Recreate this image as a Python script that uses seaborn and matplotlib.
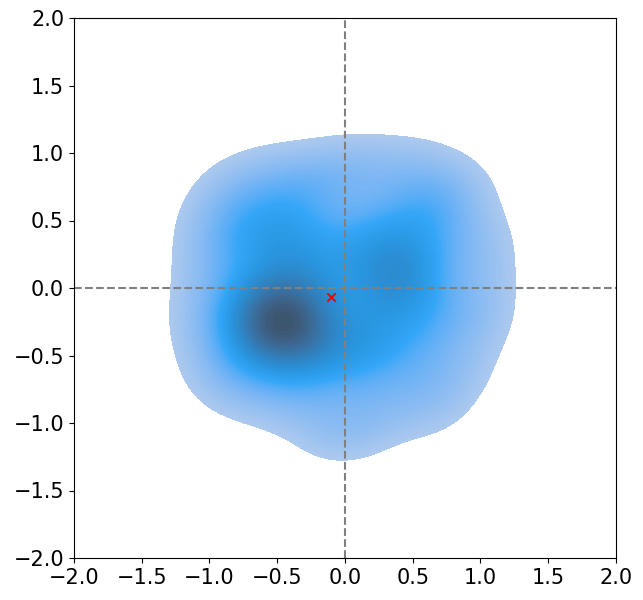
import matplotlib
matplotlib.use("Agg")
import matplotlib.pyplot as plt
import numpy as np
import pandas as pd
import seaborn as sns

# sample points (hand placed to match the density shape)
xs = [-0.45, -0.5, -0.4, -0.55, -0.35, -0.6, -0.3, -0.45, -0.4, -0.5,
      -0.35, -0.55, -0.65, -0.2, -0.5,
      0.35, 0.45, 0.3, 0.5, 0.4, 0.55,
      -0.45, -0.25, -0.6, -0.35, -0.7, -0.15, -0.8, -0.5,
      0.5, 0.7, 0.35, 0.65, 0.1,
      -0.2, 0.0, 0.25, 0.55, -0.55, 0.85, -0.85,
      -1.02, -1.05, -0.95, -1.0, -0.8,
      1.0, 1.0, 0.85, 1.0, 0.7,
      -0.5, -0.15, 0.1, 0.3, 0.55, -0.8, 0.1, -0.1, 0.3, -0.3, 0.65,
      -0.1, 0.1, 0.15, 0.0,
      -0.7, 0.2, 0.55, -0.3, 0.2]
ys = [-0.25, -0.2, -0.3, -0.35, -0.15, -0.15, -0.4, -0.45, -0.1, -0.3,
      -0.35, -0.1, -0.25, -0.35, 0.05,
      0.05, 0.1, -0.1, -0.05, 0.2, 0.15,
      0.45, 0.4, 0.3, 0.7, 0.55, 0.25, 0.3, 0.35,
      0.5, 0.4, 0.45, 0.65, 0.45,
      0.8, 0.87, 0.88, 0.87, 0.82, 0.72, 0.72,
      0.1, -0.25, -0.55, 0.45, -0.1,
      0.05, -0.25, -0.6, 0.35, -0.2,
      -0.8, -1.04, -1.04, -0.85, -0.6, -0.72, -0.55, -0.6, -0.4, -0.7, -0.88,
      0.05, -0.2, 0.15, -0.35,
      -0.45, -0.45, -0.3, 0.1, 0.3]

center_x = -0.1
center_y = -0.07

df = pd.DataFrame({"x": xs, "y": ys})

plt.rc("font", size = 15)
fig = plt.figure(figsize = (6.43, 6.0), dpi = 100)
ax = fig.add_axes([0.115, 0.07, 0.843, 0.9])

sns.kdeplot(data = df, x = "x", y = "y", fill = True, levels = 100, thresh = 0.05,
            bw_adjust = 0.85, color = "#2ea2f2", ax = ax)

ax.axhline(0, color = "gray", linestyle = "--")
ax.axvline(0, color = "gray", linestyle = "--")
ax.scatter([center_x], [center_y], color = "red", marker = "x", zorder = 5)

ax.set(xlim = (-2, 2), ylim = (-2, 2), xlabel = "", ylabel = "")
ax.set_xticks(np.arange(-2, 2.01, 0.5))
ax.set_yticks(np.arange(-2, 2.01, 0.5))

fig.savefig("out.png", dpi = 100)
